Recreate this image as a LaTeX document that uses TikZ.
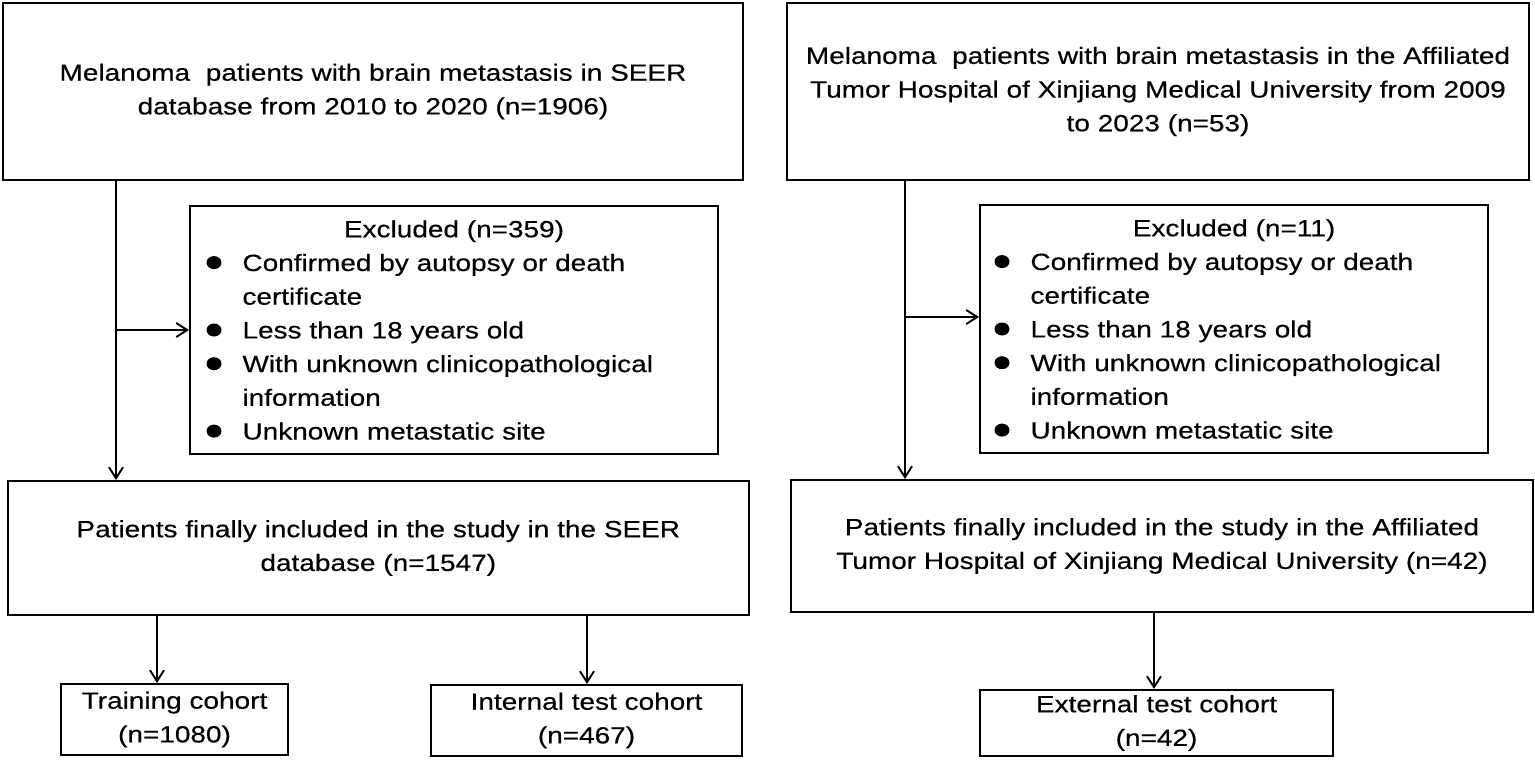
\documentclass[tikz,border=0pt]{standalone}
\usepackage{fontspec}
\setmainfont{Liberation Sans}[FakeStretch=1.19, FakeBold=0.4]
\usetikzlibrary{arrows.meta}
\newcommand{\bul}{\tikz[baseline=-8.4pt]\fill (0,0) ellipse [x radius=7.5pt, y radius=6.5pt];}
\newcommand{\bitem}[1]{\par\noindent\makebox[36pt][l]{\bul}#1}
\newcommand{\bcont}[1]{\par\noindent\hspace*{36pt}#1}
\begin{document}
\begin{tikzpicture}[x=1pt,y=-1pt,
  box/.style={draw, line width=2pt, inner xsep=0pt, inner ysep=0pt, align=center,
    font=\fontsize{23.5}{33.7}\selectfont},
  exbox/.style={box, align=left},
  arr/.style={line width=1.9pt, -{Straight Barb[length=11pt,width=14pt]}}]
\useasboundingbox (0,0) rectangle (1535,760);

\node[box, text width=740pt, minimum height=177pt] (topL) at (373,91.5)
  {Melanoma~ patients with brain metastasis in SEER\\database from 2010 to 2020 (n=1906)};
\node[box, text width=742pt, minimum height=177pt] (topR) at (1158,91.5)
  {Melanoma~ patients with brain metastasis in the Affiliated\\Tumor Hospital of Xinjiang Medical University from 2009\\to 2023 (n=53)};

\node[exbox, text width=495pt, minimum height=248pt, inner xsep=16.5pt] (exL) at (454,330)
  {{\centering Excluded (n=359)\par}
   \bitem{Confirmed by autopsy or death}
   \bcont{certificate}
   \bitem{Less than 18 years old}
   \bitem{With unknown clinicopathological}
   \bcont{information}
   \bitem{Unknown metastatic site}};
\node[exbox, text width=479pt, minimum height=248pt, inner xsep=14.5pt] (exR) at (1234,329)
  {{\centering Excluded (n=11)\par}
   \bitem{Confirmed by autopsy or death}
   \bcont{certificate}
   \bitem{Less than 18 years old}
   \bitem{With unknown clinicopathological}
   \bcont{information}
   \bitem{Unknown metastatic site}};

\node[box, text width=741pt, minimum height=134pt] (midL) at (378.3,548)
  {Patients finally included in the study in the SEER\\database (n=1547)};
\node[box, text width=742pt, minimum height=132pt] (midR) at (1162,546)
  {Patients finally included in the study in the Affiliated\\Tumor Hospital of Xinjiang Medical University (n=42)};

\node[box, text width=227pt, minimum height=71pt] (train) at (174.5,719.5)
  {Training cohort\\(n=1080)};
\node[box, text width=311pt, minimum height=71pt] (intern) at (586.5,720.5)
  {Internal test cohort\\(n=467)};
\node[box, text width=353pt, minimum height=66pt] (ext) at (1156.5,723)
  {External test cohort\\(n=42)};

\coordinate (jL) at (116,330);
\coordinate (jR) at (905,317);
\coordinate (aT) at (157,0);
\coordinate (aI) at (587,0);
\coordinate (aE) at (1154,0);

\draw[arr] (topL.south -| jL) -- (midL.north -| jL);
\draw[arr] (jL) -- (exL.west |- jL);
\draw[arr] (topR.south -| jR) -- (midR.north -| jR);
\draw[arr] (jR) -- (exR.west |- jR);
\draw[arr] (midL.south -| aT) -- (train.north -| aT);
\draw[arr] (midL.south -| aI) -- (intern.north -| aI);
\draw[arr] (midR.south -| aE) -- (ext.north -| aE);
\end{tikzpicture}
\end{document}
